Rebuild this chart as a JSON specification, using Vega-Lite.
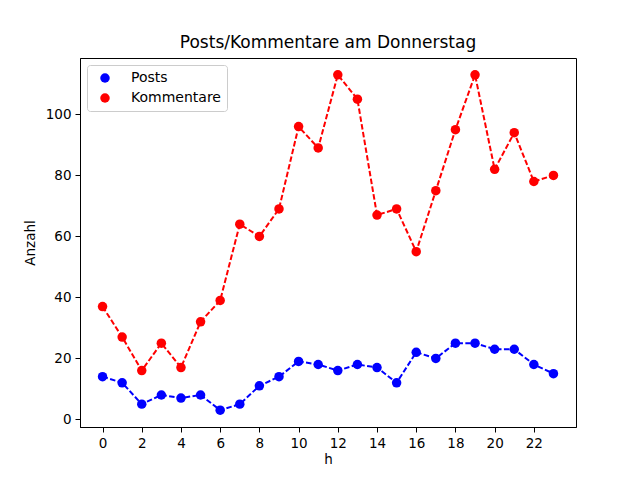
{
  "$schema": "https://vega.github.io/schema/vega-lite/v6.json",
  "width": 496,
  "height": 369,
  "autosize": {"type": "none"},
  "padding": {"left": 80, "top": 58, "right": 64, "bottom": 53},
  "background": "white",
  "title": {"text": "Posts/Kommentare am Donnerstag", "fontSize": 17, "fontWeight": "normal", "font": "DejaVu Sans", "color": "black", "offset": 6},
  "config": {
    "font": "DejaVu Sans",
    "view": {"stroke": "black", "strokeWidth": 1},
    "axis": {"grid": false, "domainColor": "black", "tickColor": "black", "labelColor": "black", "titleColor": "black", "labelFontSize": 13.5, "titleFontSize": 13.5, "titleFontWeight": "normal", "tickSize": 5, "labelPadding": 4}
  },
  "data": {
    "values": [
      {"h": 0, "Posts": 14, "Kommentare": 37},
      {"h": 1, "Posts": 12, "Kommentare": 27},
      {"h": 2, "Posts": 5, "Kommentare": 16},
      {"h": 3, "Posts": 8, "Kommentare": 25},
      {"h": 4, "Posts": 7, "Kommentare": 17},
      {"h": 5, "Posts": 8, "Kommentare": 32},
      {"h": 6, "Posts": 3, "Kommentare": 39},
      {"h": 7, "Posts": 5, "Kommentare": 64},
      {"h": 8, "Posts": 11, "Kommentare": 60},
      {"h": 9, "Posts": 14, "Kommentare": 69},
      {"h": 10, "Posts": 19, "Kommentare": 96},
      {"h": 11, "Posts": 18, "Kommentare": 89},
      {"h": 12, "Posts": 16, "Kommentare": 113},
      {"h": 13, "Posts": 18, "Kommentare": 105},
      {"h": 14, "Posts": 17, "Kommentare": 67},
      {"h": 15, "Posts": 12, "Kommentare": 69},
      {"h": 16, "Posts": 22, "Kommentare": 55},
      {"h": 17, "Posts": 20, "Kommentare": 75},
      {"h": 18, "Posts": 25, "Kommentare": 95},
      {"h": 19, "Posts": 25, "Kommentare": 113},
      {"h": 20, "Posts": 23, "Kommentare": 82},
      {"h": 21, "Posts": 23, "Kommentare": 94},
      {"h": 22, "Posts": 18, "Kommentare": 78},
      {"h": 23, "Posts": 15, "Kommentare": 80}
    ]
  },
  "transform": [
    {"fold": ["Posts", "Kommentare"], "as": ["serie", "anzahl"]}
  ],
  "encoding": {
    "x": {"field": "h", "type": "quantitative", "title": "h",
      "scale": {"domain": [-1.15, 24.15], "nice": false, "zero": false},
      "axis": {"values": [0, 2, 4, 6, 8, 10, 12, 14, 16, 18, 20, 22], "titlePadding": 3}},
    "y": {"field": "anzahl", "type": "quantitative", "title": "Anzahl",
      "scale": {"domain": [-2.5, 118.5], "nice": false, "zero": false},
      "axis": {"values": [0, 20, 40, 60, 80, 100], "titlePadding": 8}},
    "color": {"field": "serie", "type": "nominal",
      "scale": {"domain": ["Posts", "Kommentare"], "range": ["#0000ff", "#ff0000"]}}
  },
  "layer": [
    {
      "mark": {"type": "line", "strokeWidth": 2, "strokeDash": [5.5, 2.4]},
      "encoding": {
        "color": {"field": "serie", "type": "nominal", "legend": null}
      }
    },
    {
      "mark": {"type": "point", "filled": true, "shape": "circle", "size": 90, "opacity": 1},
      "encoding": {
        "color": {"field": "serie", "type": "nominal",
          "legend": {"title": null, "orient": "none", "legendX": 7, "legendY": 7,
            "fillColor": "white", "strokeColor": "#cccccc", "cornerRadius": 3, "padding": 6,
            "symbolType": "circle", "symbolSize": 90, "symbolOffset": 5, "labelOffset": 19,
            "labelFontSize": 14, "labelColor": "black", "rowPadding": 6}
        }
      }
    }
  ],
  "resolve": {"legend": {"color": "independent"}}
}
